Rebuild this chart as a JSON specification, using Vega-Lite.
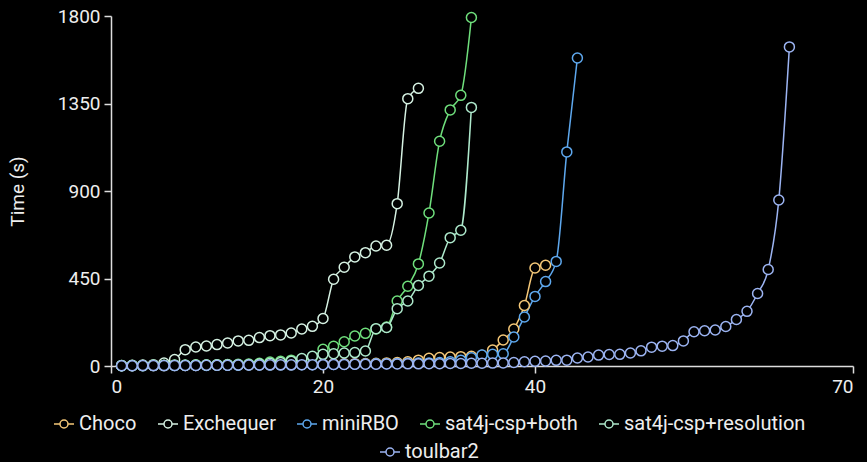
{
  "$schema": "https://vega.github.io/schema/vega-lite/v6.json",
  "autosize": "none",
  "width": 742,
  "height": 350,
  "padding": {"left": 111, "top": 16, "right": 14, "bottom": 96},
  "background": "#000000",
  "data": {"values": [
    {"series":"Choco","n":1,"t":1},{"series":"Choco","n":2,"t":1},{"series":"Choco","n":3,"t":2},{"series":"Choco","n":4,"t":2},{"series":"Choco","n":5,"t":2},{"series":"Choco","n":6,"t":3},{"series":"Choco","n":7,"t":3},{"series":"Choco","n":8,"t":3},{"series":"Choco","n":9,"t":4},{"series":"Choco","n":10,"t":4},{"series":"Choco","n":11,"t":5},{"series":"Choco","n":12,"t":5},{"series":"Choco","n":13,"t":5},{"series":"Choco","n":14,"t":6},{"series":"Choco","n":15,"t":6},{"series":"Choco","n":16,"t":7},{"series":"Choco","n":17,"t":7},{"series":"Choco","n":18,"t":8},{"series":"Choco","n":19,"t":8},{"series":"Choco","n":20,"t":9},{"series":"Choco","n":21,"t":10},{"series":"Choco","n":22,"t":11},{"series":"Choco","n":23,"t":12},{"series":"Choco","n":24,"t":13},{"series":"Choco","n":25,"t":14},{"series":"Choco","n":26,"t":16},{"series":"Choco","n":27,"t":18},{"series":"Choco","n":28,"t":22},{"series":"Choco","n":29,"t":30},{"series":"Choco","n":30,"t":40},{"series":"Choco","n":31,"t":44},{"series":"Choco","n":32,"t":46},{"series":"Choco","n":33,"t":48},{"series":"Choco","n":34,"t":50},{"series":"Choco","n":35,"t":55},{"series":"Choco","n":36,"t":82},{"series":"Choco","n":37,"t":134},{"series":"Choco","n":38,"t":190},{"series":"Choco","n":39,"t":311},{"series":"Choco","n":40,"t":504},{"series":"Choco","n":41,"t":518},
    {"series":"Exchequer","n":1,"t":3},{"series":"Exchequer","n":2,"t":4},{"series":"Exchequer","n":3,"t":5},{"series":"Exchequer","n":4,"t":7},{"series":"Exchequer","n":5,"t":15},{"series":"Exchequer","n":6,"t":33},{"series":"Exchequer","n":7,"t":84},{"series":"Exchequer","n":8,"t":98},{"series":"Exchequer","n":9,"t":103},{"series":"Exchequer","n":10,"t":110},{"series":"Exchequer","n":11,"t":118},{"series":"Exchequer","n":12,"t":129},{"series":"Exchequer","n":13,"t":132},{"series":"Exchequer","n":14,"t":146},{"series":"Exchequer","n":15,"t":156},{"series":"Exchequer","n":16,"t":160},{"series":"Exchequer","n":17,"t":170},{"series":"Exchequer","n":18,"t":190},{"series":"Exchequer","n":19,"t":204},{"series":"Exchequer","n":20,"t":244},{"series":"Exchequer","n":21,"t":446},{"series":"Exchequer","n":22,"t":508},{"series":"Exchequer","n":23,"t":561},{"series":"Exchequer","n":24,"t":583},{"series":"Exchequer","n":25,"t":617},{"series":"Exchequer","n":26,"t":621},{"series":"Exchequer","n":27,"t":835},{"series":"Exchequer","n":28,"t":1375},{"series":"Exchequer","n":29,"t":1428},
    {"series":"miniRBO","n":1,"t":1},{"series":"miniRBO","n":2,"t":1},{"series":"miniRBO","n":3,"t":1},{"series":"miniRBO","n":4,"t":2},{"series":"miniRBO","n":5,"t":2},{"series":"miniRBO","n":6,"t":2},{"series":"miniRBO","n":7,"t":3},{"series":"miniRBO","n":8,"t":3},{"series":"miniRBO","n":9,"t":3},{"series":"miniRBO","n":10,"t":4},{"series":"miniRBO","n":11,"t":4},{"series":"miniRBO","n":12,"t":4},{"series":"miniRBO","n":13,"t":5},{"series":"miniRBO","n":14,"t":5},{"series":"miniRBO","n":15,"t":5},{"series":"miniRBO","n":16,"t":6},{"series":"miniRBO","n":17,"t":6},{"series":"miniRBO","n":18,"t":7},{"series":"miniRBO","n":19,"t":7},{"series":"miniRBO","n":20,"t":8},{"series":"miniRBO","n":21,"t":8},{"series":"miniRBO","n":22,"t":9},{"series":"miniRBO","n":23,"t":9},{"series":"miniRBO","n":24,"t":10},{"series":"miniRBO","n":25,"t":11},{"series":"miniRBO","n":26,"t":12},{"series":"miniRBO","n":27,"t":13},{"series":"miniRBO","n":28,"t":14},{"series":"miniRBO","n":29,"t":15},{"series":"miniRBO","n":30,"t":16},{"series":"miniRBO","n":31,"t":18},{"series":"miniRBO","n":32,"t":22},{"series":"miniRBO","n":33,"t":30},{"series":"miniRBO","n":34,"t":42},{"series":"miniRBO","n":35,"t":56},{"series":"miniRBO","n":36,"t":60},{"series":"miniRBO","n":37,"t":63},{"series":"miniRBO","n":38,"t":149},{"series":"miniRBO","n":39,"t":252},{"series":"miniRBO","n":40,"t":358},{"series":"miniRBO","n":41,"t":434},{"series":"miniRBO","n":42,"t":538},{"series":"miniRBO","n":43,"t":1101},{"series":"miniRBO","n":44,"t":1584},
    {"series":"sat4j-csp+both","n":1,"t":2},{"series":"sat4j-csp+both","n":2,"t":3},{"series":"sat4j-csp+both","n":3,"t":3},{"series":"sat4j-csp+both","n":4,"t":4},{"series":"sat4j-csp+both","n":5,"t":4},{"series":"sat4j-csp+both","n":6,"t":5},{"series":"sat4j-csp+both","n":7,"t":5},{"series":"sat4j-csp+both","n":8,"t":6},{"series":"sat4j-csp+both","n":9,"t":6},{"series":"sat4j-csp+both","n":10,"t":7},{"series":"sat4j-csp+both","n":11,"t":8},{"series":"sat4j-csp+both","n":12,"t":9},{"series":"sat4j-csp+both","n":13,"t":10},{"series":"sat4j-csp+both","n":14,"t":14},{"series":"sat4j-csp+both","n":15,"t":20},{"series":"sat4j-csp+both","n":16,"t":24},{"series":"sat4j-csp+both","n":17,"t":30},{"series":"sat4j-csp+both","n":18,"t":35},{"series":"sat4j-csp+both","n":19,"t":45},{"series":"sat4j-csp+both","n":20,"t":86},{"series":"sat4j-csp+both","n":21,"t":101},{"series":"sat4j-csp+both","n":22,"t":125},{"series":"sat4j-csp+both","n":23,"t":154},{"series":"sat4j-csp+both","n":24,"t":168},{"series":"sat4j-csp+both","n":25,"t":190},{"series":"sat4j-csp+both","n":26,"t":200},{"series":"sat4j-csp+both","n":27,"t":334},{"series":"sat4j-csp+both","n":28,"t":410},{"series":"sat4j-csp+both","n":29,"t":525},{"series":"sat4j-csp+both","n":30,"t":787},{"series":"sat4j-csp+both","n":31,"t":1156},{"series":"sat4j-csp+both","n":32,"t":1317},{"series":"sat4j-csp+both","n":33,"t":1392},{"series":"sat4j-csp+both","n":34,"t":1792},
    {"series":"sat4j-csp+resolution","n":1,"t":1},{"series":"sat4j-csp+resolution","n":2,"t":2},{"series":"sat4j-csp+resolution","n":3,"t":2},{"series":"sat4j-csp+resolution","n":4,"t":3},{"series":"sat4j-csp+resolution","n":5,"t":3},{"series":"sat4j-csp+resolution","n":6,"t":4},{"series":"sat4j-csp+resolution","n":7,"t":4},{"series":"sat4j-csp+resolution","n":8,"t":5},{"series":"sat4j-csp+resolution","n":9,"t":5},{"series":"sat4j-csp+resolution","n":10,"t":6},{"series":"sat4j-csp+resolution","n":11,"t":6},{"series":"sat4j-csp+resolution","n":12,"t":7},{"series":"sat4j-csp+resolution","n":13,"t":8},{"series":"sat4j-csp+resolution","n":14,"t":10},{"series":"sat4j-csp+resolution","n":15,"t":14},{"series":"sat4j-csp+resolution","n":16,"t":18},{"series":"sat4j-csp+resolution","n":17,"t":25},{"series":"sat4j-csp+resolution","n":18,"t":38},{"series":"sat4j-csp+resolution","n":19,"t":50},{"series":"sat4j-csp+resolution","n":20,"t":60},{"series":"sat4j-csp+resolution","n":21,"t":63},{"series":"sat4j-csp+resolution","n":22,"t":67},{"series":"sat4j-csp+resolution","n":23,"t":69},{"series":"sat4j-csp+resolution","n":24,"t":77},{"series":"sat4j-csp+resolution","n":25,"t":192},{"series":"sat4j-csp+resolution","n":26,"t":198},{"series":"sat4j-csp+resolution","n":27,"t":295},{"series":"sat4j-csp+resolution","n":28,"t":334},{"series":"sat4j-csp+resolution","n":29,"t":414},{"series":"sat4j-csp+resolution","n":30,"t":462},{"series":"sat4j-csp+resolution","n":31,"t":530},{"series":"sat4j-csp+resolution","n":32,"t":660},{"series":"sat4j-csp+resolution","n":33,"t":698},{"series":"sat4j-csp+resolution","n":34,"t":1330},
    {"series":"toulbar2","n":1,"t":1},{"series":"toulbar2","n":2,"t":1},{"series":"toulbar2","n":3,"t":2},{"series":"toulbar2","n":4,"t":2},{"series":"toulbar2","n":5,"t":2},{"series":"toulbar2","n":6,"t":3},{"series":"toulbar2","n":7,"t":3},{"series":"toulbar2","n":8,"t":3},{"series":"toulbar2","n":9,"t":4},{"series":"toulbar2","n":10,"t":4},{"series":"toulbar2","n":11,"t":4},{"series":"toulbar2","n":12,"t":5},{"series":"toulbar2","n":13,"t":5},{"series":"toulbar2","n":14,"t":5},{"series":"toulbar2","n":15,"t":6},{"series":"toulbar2","n":16,"t":6},{"series":"toulbar2","n":17,"t":6},{"series":"toulbar2","n":18,"t":7},{"series":"toulbar2","n":19,"t":7},{"series":"toulbar2","n":20,"t":7},{"series":"toulbar2","n":21,"t":8},{"series":"toulbar2","n":22,"t":8},{"series":"toulbar2","n":23,"t":9},{"series":"toulbar2","n":24,"t":9},{"series":"toulbar2","n":25,"t":9},{"series":"toulbar2","n":26,"t":10},{"series":"toulbar2","n":27,"t":10},{"series":"toulbar2","n":28,"t":11},{"series":"toulbar2","n":29,"t":11},{"series":"toulbar2","n":30,"t":12},{"series":"toulbar2","n":31,"t":12},{"series":"toulbar2","n":32,"t":13},{"series":"toulbar2","n":33,"t":13},{"series":"toulbar2","n":34,"t":14},{"series":"toulbar2","n":35,"t":14},{"series":"toulbar2","n":36,"t":15},{"series":"toulbar2","n":37,"t":16},{"series":"toulbar2","n":38,"t":18},{"series":"toulbar2","n":39,"t":22},{"series":"toulbar2","n":40,"t":24},{"series":"toulbar2","n":41,"t":26},{"series":"toulbar2","n":42,"t":29},{"series":"toulbar2","n":43,"t":30},{"series":"toulbar2","n":44,"t":41},{"series":"toulbar2","n":45,"t":46},{"series":"toulbar2","n":46,"t":56},{"series":"toulbar2","n":47,"t":59},{"series":"toulbar2","n":48,"t":60},{"series":"toulbar2","n":49,"t":67},{"series":"toulbar2","n":50,"t":78},{"series":"toulbar2","n":51,"t":97},{"series":"toulbar2","n":52,"t":102},{"series":"toulbar2","n":53,"t":105},{"series":"toulbar2","n":54,"t":129},{"series":"toulbar2","n":55,"t":176},{"series":"toulbar2","n":56,"t":181},{"series":"toulbar2","n":57,"t":185},{"series":"toulbar2","n":58,"t":203},{"series":"toulbar2","n":59,"t":239},{"series":"toulbar2","n":60,"t":281},{"series":"toulbar2","n":61,"t":373},{"series":"toulbar2","n":62,"t":496},{"series":"toulbar2","n":63,"t":854},{"series":"toulbar2","n":64,"t":1641}
  ]},
  "layer": [
    {
      "transform": [{"filter": "datum.series !== 'toulbar2'"}],
      "mark": {"type": "line", "interpolate": "monotone", "strokeWidth": 1.5, "point": {"filled": false, "fill": "#000000", "size": 100, "strokeWidth": 1.5}},
      "encoding": {
        "x": {"field": "n", "type": "quantitative", "scale": {"domain": [0, 70], "nice": false}, "axis": {"values": [0, 20, 40, 70], "title": null, "format": "d"}},
        "y": {"field": "t", "type": "quantitative", "scale": {"domain": [0, 1800], "nice": false}, "axis": {"values": [0, 450, 900, 1350, 1800], "title": "Time (s)", "format": "d"}},
        "color": {"field": "series", "type": "nominal",
          "scale": {"domain": ["Choco", "Exchequer", "miniRBO", "sat4j-csp+both", "sat4j-csp+resolution"], "range": ["#f5c878", "#d6f2e3", "#5ea8ee", "#6fdf7c", "#aee9cc"]},
          "legend": {"orient": "none", "legendX": -58, "legendY": 397, "direction": "horizontal", "title": null}}
      }
    },
    {
      "transform": [{"filter": "datum.series === 'toulbar2'"}],
      "mark": {"type": "line", "interpolate": "monotone", "strokeWidth": 1.5, "point": {"filled": false, "fill": "#000000", "size": 100, "strokeWidth": 1.5}},
      "encoding": {
        "x": {"field": "n", "type": "quantitative"},
        "y": {"field": "t", "type": "quantitative"},
        "color": {"field": "series", "type": "nominal",
          "scale": {"domain": ["toulbar2"], "range": ["#9cb4f2"]},
          "legend": {"orient": "none", "legendX": 268, "legendY": 425, "direction": "horizontal", "title": null}}
      }
    }
  ],
  "resolve": {"scale": {"color": "independent"}, "legend": {"color": "independent"}},
  "config": {
    "view": {"stroke": null},
    "font": "Roboto",
    "axis": {
      "grid": false,
      "domainColor": "#dddddd",
      "tickColor": "#dddddd",
      "domainWidth": 1.5,
      "tickWidth": 1.5,
      "tickSize": 7,
      "labelColor": "#eeeeee",
      "labelFont": "Roboto",
      "labelFontSize": 19,
      "labelPadding": 4,
      "titleColor": "#eeeeee",
      "titleFont": "Roboto",
      "titleFontSize": 19,
      "titleFontWeight": "normal",
      "titlePadding": 30
    },
    "legend": {
      "labelColor": "#eeeeee",
      "labelFont": "Roboto",
      "labelFontSize": 20,
      "labelOffset": 4,
      "labelLimit": 400,
      "columnPadding": 18,
      "symbolType": "M-1,0H-0.4M0.4,0H1M-0.4,0A0.4,0.4 0 1,0 0.4,0A0.4,0.4 0 1,0 -0.4,0",
      "symbolSize": 400,
      "symbolStrokeWidth": 1.5,
      "symbolFillColor": "#000000"
    }
  }
}
